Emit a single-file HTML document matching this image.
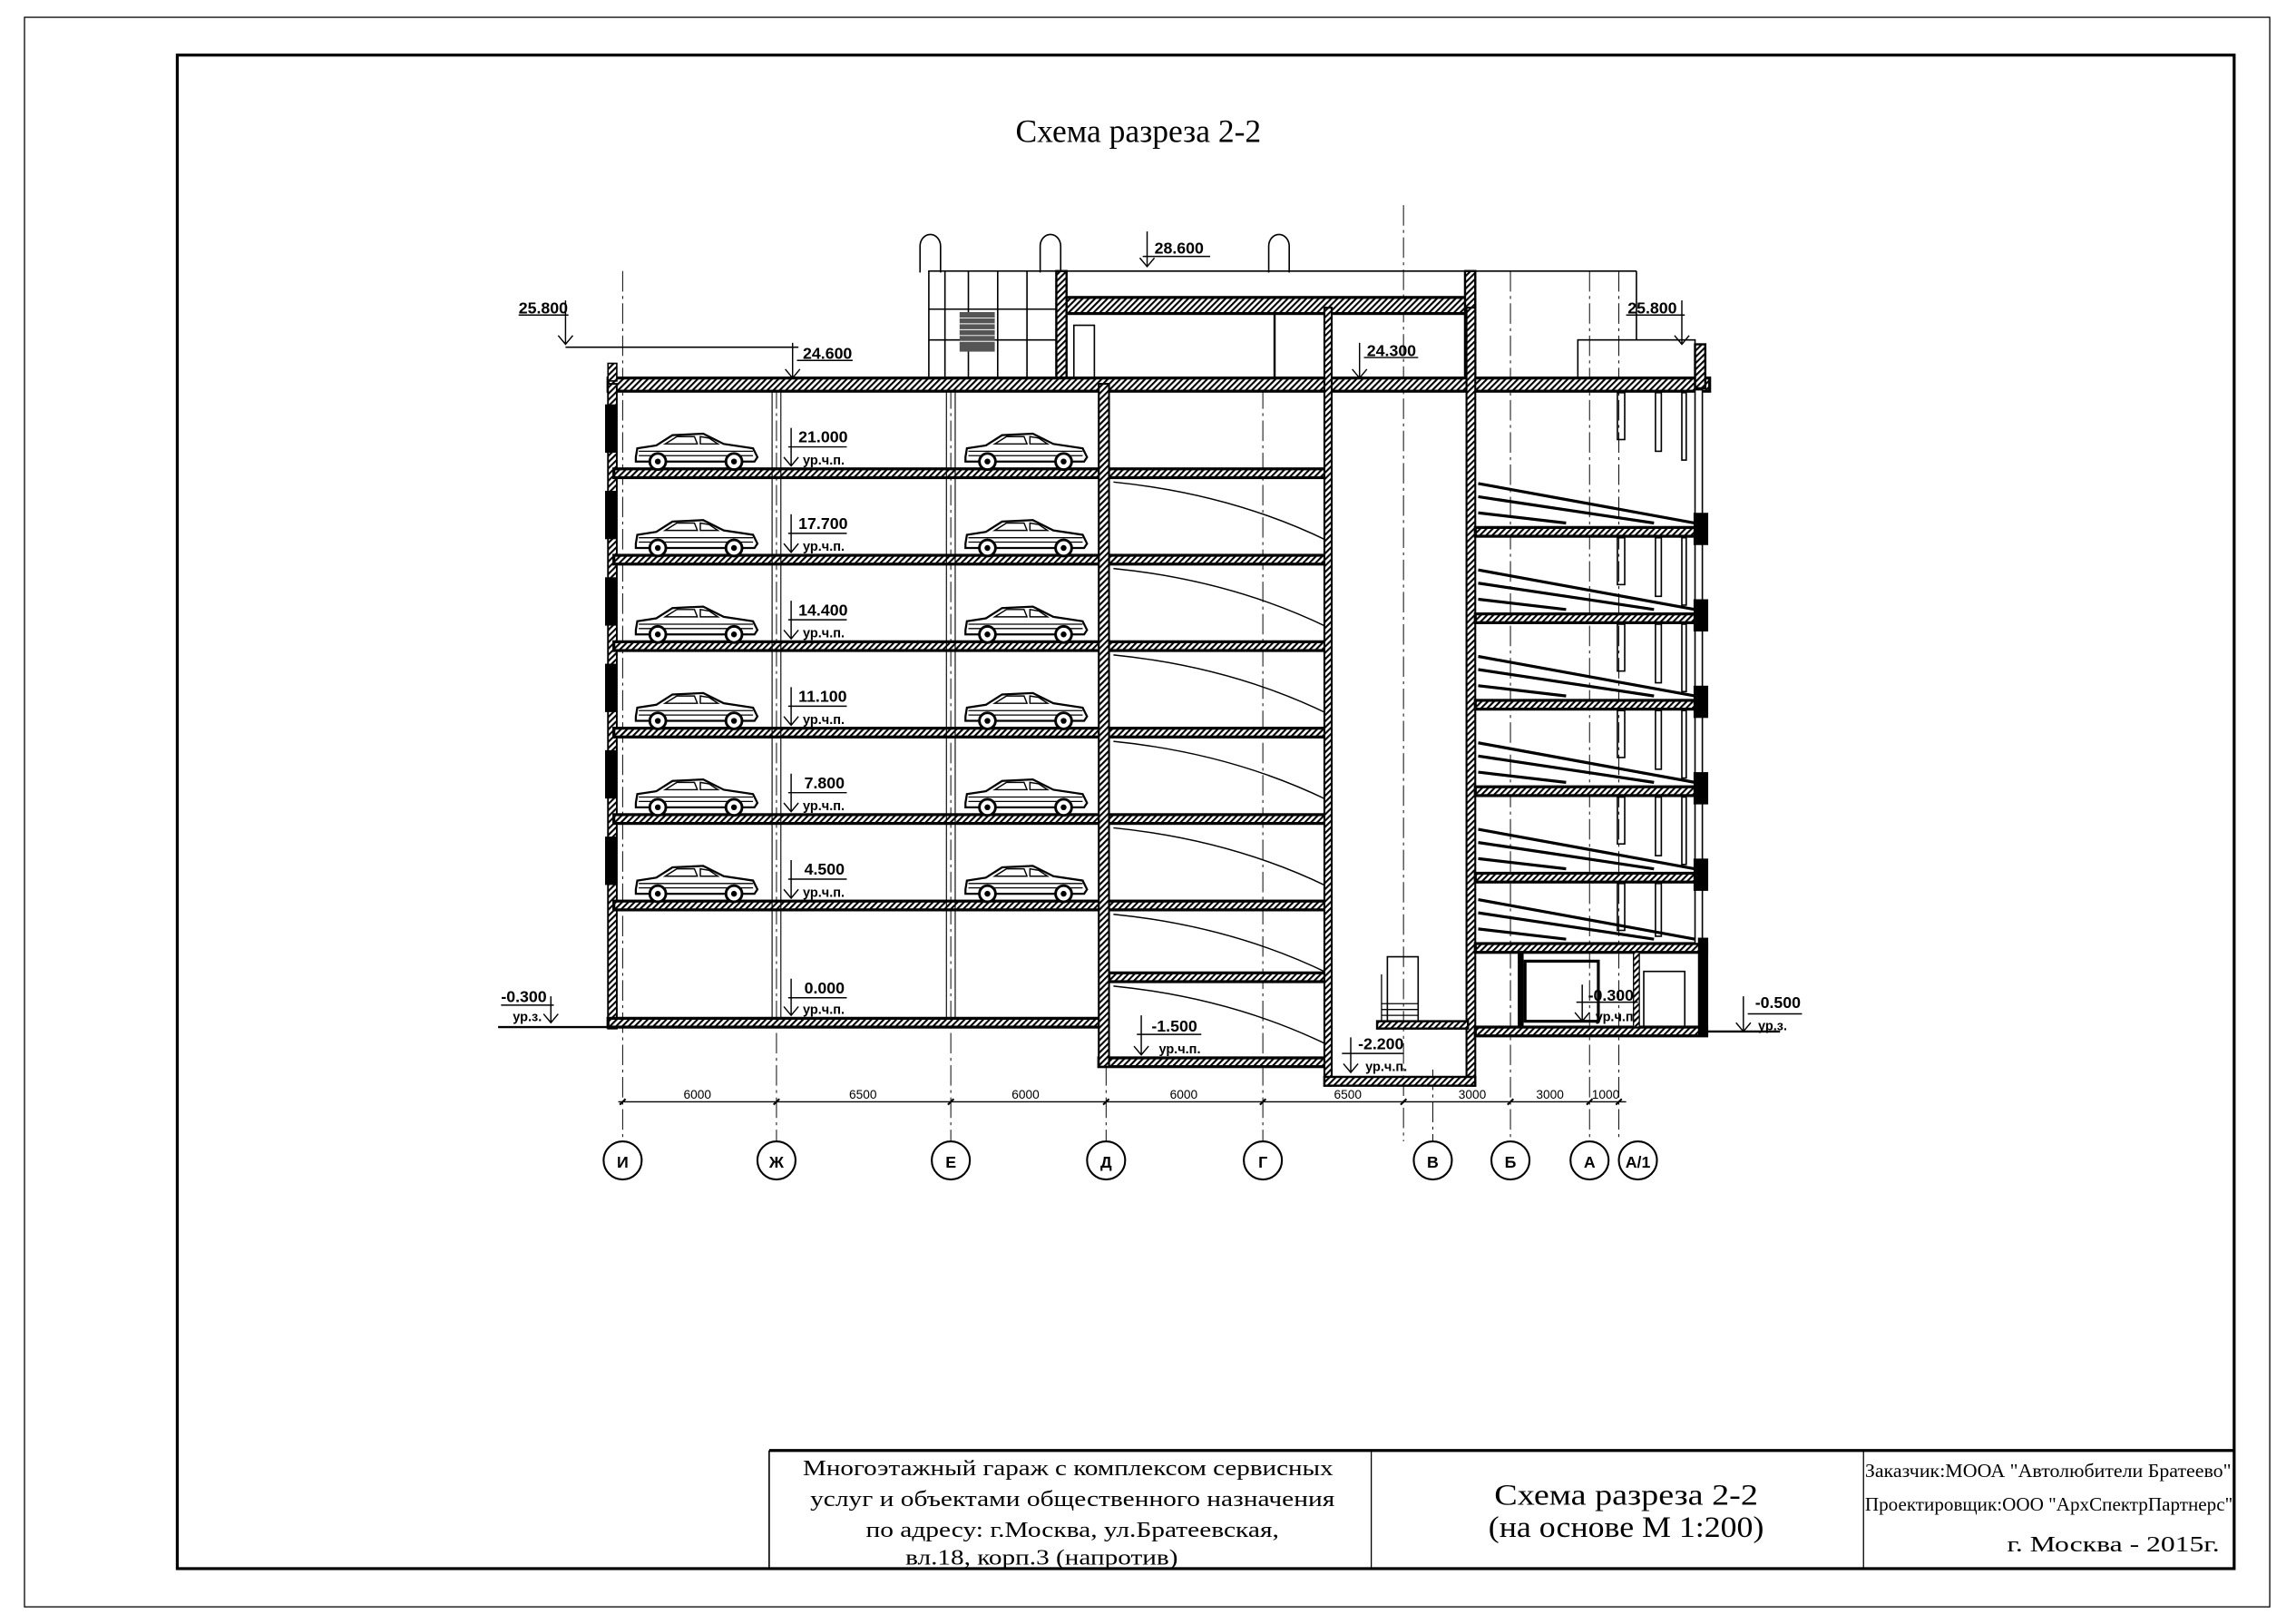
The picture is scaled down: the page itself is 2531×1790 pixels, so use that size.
<!DOCTYPE html>
<html><head><meta charset="utf-8"><style>
html,body{margin:0;padding:0;background:#fff}
svg{display:block}
.n{font-family:"Liberation Sans",sans-serif;font-size:11px;font-weight:bold;}
.d{font-family:"Liberation Sans",sans-serif;font-size:8.5px;}
.s{font-family:"Liberation Serif",serif;}
</style></head><body>
<svg width="2531" height="1790" viewBox="0 0 1567.2 1108.4" xmlns="http://www.w3.org/2000/svg">
<defs>
<pattern id="h" width="3" height="3" patternUnits="userSpaceOnUse" patternTransform="rotate(45)">
<rect width="3" height="3" fill="#fff"/><rect width="1.3" height="3" fill="#000"/></pattern>
<g id="car">
<path d="M2,17 L3,11 L16,9 L27,2 L48,1 L62,8 L82,11 L85,17 L83,20 L2,20 Z" fill="#fff" stroke="#000" stroke-width="1.4"/>
<path d="M22,8 L30,3 L42,3 L44,8 Z M46,8 L46,3 L52,4 L58,8 Z" fill="none" stroke="#000" stroke-width="0.9"/>
<line x1="4" y1="13" x2="82" y2="13" stroke="#000" stroke-width="0.8"/>
<line x1="4" y1="16" x2="82" y2="16" stroke="#000" stroke-width="0.8"/>
<circle cx="17" cy="20" r="5.5" fill="#fff" stroke="#000" stroke-width="1.8"/><circle cx="17" cy="20" r="2" fill="#000"/>
<circle cx="69" cy="20" r="5.5" fill="#fff" stroke="#000" stroke-width="1.8"/><circle cx="69" cy="20" r="2" fill="#000"/>
</g>
<g id="ramp">
<path d="M0,0 Q80,8 146,40" fill="none" stroke="#000" stroke-width="0.9"/>
</g>
<g id="rr">
<line x1="0" y1="-30" x2="148" y2="-3" stroke="#000" stroke-width="2"/>
<line x1="0" y1="-21" x2="120" y2="-3" stroke="#000" stroke-width="2"/>
<line x1="0" y1="-10" x2="60" y2="-3" stroke="#000" stroke-width="2"/>
</g>
</defs>

<!-- frames -->
<rect x="16.7" y="11.8" width="1532.6" height="1084.9" fill="none" stroke="#000" stroke-width="0.8"/>
<rect x="121" y="37.6" width="1404" height="1033" fill="none" stroke="#000" stroke-width="2"/>

<text x="777" y="97" class="s" font-size="22" text-anchor="middle">Схема разреза 2-2</text>

<!-- axis lines -->
<g stroke="#000" stroke-width="0.6" stroke-dasharray="14,3,2,3">
<line x1="425" y1="185" x2="425" y2="779"/>
<line x1="530" y1="265" x2="530" y2="779"/>
<line x1="649" y1="265" x2="649" y2="779"/>
<line x1="755" y1="265" x2="755" y2="779"/>
<line x1="862" y1="265" x2="862" y2="779"/>
<line x1="958" y1="140" x2="958" y2="779"/>
<line x1="978" y1="730" x2="978" y2="779"/>
<line x1="1031" y1="185" x2="1031" y2="779"/>
<line x1="1085" y1="185" x2="1085" y2="779"/>
<line x1="1105" y1="185" x2="1105" y2="779"/>
</g>

<!-- roof top structures -->
<g fill="none" stroke="#000" stroke-width="1">
<path d="M628,186 L628,168 A7,8 0 0 1 642,168 L642,186"/>
<path d="M710,186 L710,168 A7,8 0 0 1 724,168 L724,186"/>
<path d="M866,186 L866,168 A7,8 0 0 1 880,168 L880,186"/>
<rect x="634" y="185" width="90" height="74"/>
<line x1="645" y1="185" x2="645" y2="259"/><line x1="661" y1="185" x2="661" y2="259"/>
<line x1="681" y1="185" x2="681" y2="259"/><line x1="701" y1="185" x2="701" y2="259"/>
<line x1="634" y1="211" x2="724" y2="211"/><line x1="634" y1="232" x2="724" y2="232"/>
<line x1="728" y1="185" x2="1117" y2="185"/>
<line x1="1117" y1="185" x2="1117" y2="232"/>
<rect x="1077" y="232" width="80" height="28"/>
<line x1="386" y1="237" x2="545" y2="237"/>
<rect x="733" y="222" width="14" height="40"/>
</g>
<rect x="655" y="213" width="24" height="27" fill="#555"/>
<g stroke="#fff" stroke-width="0.6"><line x1="655" y1="217" x2="679" y2="217"/><line x1="655" y1="221" x2="679" y2="221"/><line x1="655" y1="225" x2="679" y2="225"/><line x1="655" y1="229" x2="679" y2="229"/><line x1="655" y1="233" x2="679" y2="233"/></g>

<!-- penthouse -->
<rect x="722" y="203" width="284" height="11" fill="url(#h)" stroke="#000" stroke-width="2"/>
<rect x="721" y="185" width="7" height="78" fill="url(#h)" stroke="#000" stroke-width="1.5"/>
<rect x="1000" y="185" width="7" height="78" fill="url(#h)" stroke="#000" stroke-width="1.5"/>
<line x1="870" y1="214" x2="870" y2="262" stroke="#000" stroke-width="1.5"/>

<!-- roof slab main -->
<rect x="415" y="258" width="752" height="9" fill="url(#h)" stroke="#000" stroke-width="2"/>
<rect x="415" y="248" width="6" height="12" fill="url(#h)" stroke="#000" stroke-width="1"/>
<rect x="1157" y="235" width="7" height="30" fill="url(#h)" stroke="#000" stroke-width="1.5"/>

<!-- left outer wall -->
<rect x="415" y="262" width="6" height="440" fill="url(#h)" stroke="#000" stroke-width="1.2"/>
<g fill="#000">
<rect x="413" y="276" width="8" height="33"/><rect x="413" y="335" width="8" height="33"/>
<rect x="413" y="394" width="8" height="33"/><rect x="413" y="453" width="8" height="33"/>
<rect x="413" y="512" width="8" height="33"/><rect x="413" y="571" width="8" height="33"/>
</g>

<!-- left slabs -->
<g fill="url(#h)" stroke="#000" stroke-width="2">
<rect x="419" y="320" width="487" height="6"/>
<rect x="419" y="379" width="487" height="6"/>
<rect x="419" y="438" width="487" height="6"/>
<rect x="419" y="497" width="487" height="6"/>
<rect x="419" y="556" width="487" height="6"/>
<rect x="419" y="615" width="487" height="6"/>
<rect x="415" y="695" width="338" height="6"/>
<rect x="757" y="664" width="149" height="6"/>
<rect x="750" y="722" width="158" height="6"/>
</g>
<g stroke="#000" stroke-width="0.7">
<line x1="527" y1="267" x2="527" y2="695"/><line x1="533" y1="267" x2="533" y2="695"/>
<line x1="646" y1="267" x2="646" y2="695"/><line x1="652" y1="267" x2="652" y2="695"/>
</g>
<rect x="750" y="262" width="7" height="466" fill="url(#h)" stroke="#000" stroke-width="1.3"/>

<!-- cars -->
<g>
<use href="#car" x="432" y="295"/><use href="#car" x="657" y="295"/>
<use href="#car" x="432" y="354"/><use href="#car" x="657" y="354"/>
<use href="#car" x="432" y="413"/><use href="#car" x="657" y="413"/>
<use href="#car" x="432" y="472"/><use href="#car" x="657" y="472"/>
<use href="#car" x="432" y="531"/><use href="#car" x="657" y="531"/>
<use href="#car" x="432" y="590"/><use href="#car" x="657" y="590"/>
</g>

<!-- middle ramps -->
<g>
<use href="#ramp" x="760" y="329"/><use href="#ramp" x="760" y="388"/>
<use href="#ramp" x="760" y="447"/><use href="#ramp" x="760" y="506"/>
<use href="#ramp" x="760" y="565"/><use href="#ramp" x="760" y="624"/>
<use href="#ramp" x="760" y="673"/>
</g>

<!-- shaft -->
<rect x="904" y="210" width="5" height="531" fill="url(#h)" stroke="#000" stroke-width="1.3"/>
<rect x="1001" y="210" width="6" height="531" fill="url(#h)" stroke="#000" stroke-width="1.3"/>
<rect x="904" y="735" width="103" height="6" fill="url(#h)" stroke="#000" stroke-width="1.5"/>
<rect x="940" y="697" width="62" height="5" fill="url(#h)" stroke="#000" stroke-width="1.5"/>
<rect x="947" y="653" width="21" height="44" fill="none" stroke="#000" stroke-width="1"/>
<g stroke="#000" stroke-width="0.8"><line x1="943" y1="665" x2="943" y2="697"/><line x1="968" y1="665" x2="968" y2="697"/>
<line x1="943" y1="685" x2="968" y2="685"/><line x1="943" y1="689" x2="968" y2="689"/><line x1="943" y1="693" x2="968" y2="693"/></g>

<!-- right block -->
<g fill="url(#h)" stroke="#000" stroke-width="2">
<rect x="1007" y="360" width="150" height="6"/>
<rect x="1007" y="419" width="150" height="6"/>
<rect x="1007" y="478" width="150" height="6"/>
<rect x="1007" y="537" width="150" height="6"/>
<rect x="1007" y="596" width="150" height="6"/>
<rect x="1007" y="644" width="158" height="6"/>
<rect x="1007" y="701" width="158" height="6"/>
</g>
<rect x="1157" y="266" width="5" height="378" fill="#fff" stroke="#000" stroke-width="1"/>
<g fill="#000">
<rect x="1156" y="350" width="10" height="22"/><rect x="1156" y="409" width="10" height="22"/>
<rect x="1156" y="468" width="10" height="22"/><rect x="1156" y="527" width="10" height="22"/>
<rect x="1156" y="586" width="10" height="22"/><rect x="1159" y="640" width="7" height="67"/>
</g>
<g>
<use href="#rr" x="1009" y="360"/><use href="#rr" x="1009" y="419"/>
<use href="#rr" x="1009" y="478"/><use href="#rr" x="1009" y="537"/>
<use href="#rr" x="1009" y="596"/><use href="#rr" x="1009" y="644"/>
</g>
<g fill="none" stroke="#000" stroke-width="1">
<rect x="1104" y="268" width="5" height="32"/><rect x="1104" y="367" width="5" height="32"/><rect x="1104" y="426" width="5" height="32"/><rect x="1104" y="485" width="5" height="32"/><rect x="1104" y="544" width="5" height="32"/><rect x="1104" y="603" width="5" height="32"/>
<rect x="1130" y="268" width="4" height="40"/><rect x="1130" y="367" width="4" height="40"/><rect x="1130" y="426" width="4" height="40"/><rect x="1130" y="485" width="4" height="40"/><rect x="1130" y="544" width="4" height="40"/><rect x="1130" y="603" width="4" height="36"/>
<rect x="1148" y="268" width="3" height="46"/><rect x="1148" y="367" width="3" height="46"/><rect x="1148" y="426" width="3" height="46"/><rect x="1148" y="485" width="3" height="46"/><rect x="1148" y="544" width="3" height="46"/>
<rect x="1041" y="656" width="50" height="41" stroke-width="2"/>
<rect x="1122" y="663" width="28" height="38"/>
</g>
<rect x="1036" y="650" width="4" height="51" fill="#000"/>
<rect x="1115" y="650" width="4" height="51" fill="url(#h)" stroke="#000" stroke-width="0.8"/>

<line x1="340" y1="701" x2="415" y2="701" stroke="#000" stroke-width="1.5"/>
<line x1="1165" y1="704" x2="1215" y2="704" stroke="#000" stroke-width="1.5"/>

<!-- level marks -->
<g stroke="#000" stroke-width="0.9" fill="none">
<path d="M540,292 V318 M535,312 L540,318 L545,312 M538,305 H578"/>
<path d="M540,351 V377 M535,371 L540,377 L545,371 M538,364 H578"/>
<path d="M540,410 V436 M535,430 L540,436 L545,430 M538,423 H578"/>
<path d="M540,469 V495 M535,489 L540,495 L545,489 M538,482 H578"/>
<path d="M540,528 V554 M535,548 L540,554 L545,548 M538,541 H578"/>
<path d="M540,587 V613 M535,607 L540,613 L545,607 M538,600 H578"/>
<path d="M540,668 V693 M535,687 L540,693 L545,687 M538,681 H578"/>
<path d="M783,158 V182 M778,176 L783,182 L788,176 M780,175 H826"/>
<path d="M386,205 V235 M381,229 L386,235 L391,229 M354,215 H388"/>
<path d="M1148,205 V235 M1143,229 L1148,235 L1153,229 M1110,215 H1150"/>
<path d="M541,234 V258 M536,252 L541,258 L546,252 M544,246 H582"/>
<path d="M928,234 V258 M923,252 L928,258 L933,252 M931,244 H968"/>
<path d="M376,680 V698 M371,692 L376,698 L381,692 M342,686 H378"/>
<path d="M779,693 V720 M774,714 L779,720 L784,714 M776,706 H820"/>
<path d="M922,708 V732 M917,726 L922,732 L927,726 M916,719 H958"/>
<path d="M1080,672 V697 M1075,691 L1080,697 L1085,691 M1076,684 H1118"/>
<path d="M1190,680 V704 M1185,698 L1190,704 L1195,698 M1193,692 H1230"/>
</g>
<g class="n">
<text x="545" y="302">21.000</text><text x="548" y="317" font-size="9">ур.ч.п.</text>
<text x="545" y="361">17.700</text><text x="548" y="376" font-size="9">ур.ч.п.</text>
<text x="545" y="420">14.400</text><text x="548" y="435" font-size="9">ур.ч.п.</text>
<text x="545" y="479">11.100</text><text x="548" y="494" font-size="9">ур.ч.п.</text>
<text x="549" y="538">7.800</text><text x="548" y="553" font-size="9">ур.ч.п.</text>
<text x="549" y="597">4.500</text><text x="548" y="612" font-size="9">ур.ч.п.</text>
<text x="549" y="678">0.000</text><text x="548" y="692" font-size="9">ур.ч.п.</text>
<text x="788" y="173">28.600</text>
<text x="354" y="214">25.800</text>
<text x="1111" y="214">25.800</text>
<text x="548" y="245">24.600</text>
<text x="933" y="243">24.300</text>
<text x="342" y="684">-0.300</text><text x="350" y="697" font-size="9">ур.з.</text>
<text x="786" y="704">-1.500</text><text x="791" y="719" font-size="9">ур.ч.п.</text>
<text x="927" y="716">-2.200</text><text x="932" y="731" font-size="9">ур.ч.п.</text>
<text x="1084" y="683">-0.300</text><text x="1089" y="697" font-size="9">ур.ч.п.</text>
<text x="1198" y="688">-0.500</text><text x="1200" y="703" font-size="9">ур.з.</text>
</g>

<line x1="422" y1="752" x2="1110" y2="752" stroke="#000" stroke-width="0.8"/>
<g stroke="#000" stroke-width="1.3">
<line x1="423" y1="754" x2="427" y2="750"/><line x1="528" y1="754" x2="532" y2="750"/><line x1="647" y1="754" x2="651" y2="750"/>
<line x1="753" y1="754" x2="757" y2="750"/><line x1="860" y1="754" x2="864" y2="750"/><line x1="956" y1="754" x2="960" y2="750"/>
<line x1="1029" y1="754" x2="1033" y2="750"/><line x1="1083" y1="754" x2="1087" y2="750"/><line x1="1103" y1="754" x2="1107" y2="750"/>
</g>
<g class="d" text-anchor="middle">
<text x="476" y="750">6000</text><text x="589" y="750">6500</text><text x="700" y="750">6000</text>
<text x="808" y="750">6000</text><text x="920" y="750">6500</text><text x="1005" y="750">3000</text>
<text x="1058" y="750">3000</text><text x="1096" y="750">1000</text>
</g>

<g fill="#fff" stroke="#000" stroke-width="1.3">
<circle cx="425" cy="792" r="13"/><circle cx="530" cy="792" r="13"/><circle cx="649" cy="792" r="13"/>
<circle cx="755" cy="792" r="13"/><circle cx="862" cy="792" r="13"/><circle cx="978" cy="792" r="13"/>
<circle cx="1031" cy="792" r="13"/><circle cx="1085" cy="792" r="13"/><circle cx="1118" cy="792" r="13"/>
</g>
<g class="n" font-size="12" text-anchor="middle" font-weight="normal">
<text x="425" y="797">И</text><text x="530" y="797">Ж</text><text x="649" y="797">Е</text>
<text x="755" y="797">Д</text><text x="862" y="797">Г</text><text x="978" y="797">В</text>
<text x="1031" y="797">Б</text><text x="1085" y="797">А</text><text x="1118" y="797">А/1</text>
</g>

<!-- title block -->
<line x1="525" y1="990" x2="1525" y2="990" stroke="#000" stroke-width="2"/>
<line x1="525" y1="990" x2="525" y2="1071" stroke="#000" stroke-width="1"/>
<line x1="936" y1="990" x2="936" y2="1071" stroke="#000" stroke-width="0.8"/>
<line x1="1272" y1="990" x2="1272" y2="1071" stroke="#000" stroke-width="0.8"/>
<g class="s" font-size="15" text-anchor="middle">
<text x="729" y="1007" textLength="362" lengthAdjust="spacingAndGlyphs">Многоэтажный гараж с комплексом сервисных</text>
<text x="732" y="1028" textLength="358" lengthAdjust="spacingAndGlyphs">услуг и объектами общественного назначения</text>
<text x="732" y="1049" textLength="282" lengthAdjust="spacingAndGlyphs">по адресу: г.Москва, ул.Братеевская,</text>
<text x="711" y="1068" textLength="186" lengthAdjust="spacingAndGlyphs">вл.18, корп.3 (напротив)</text>
<text x="1110" y="1027" font-size="20" textLength="180" lengthAdjust="spacingAndGlyphs">Схема разреза 2-2</text>
<text x="1110" y="1049" font-size="20" textLength="188" lengthAdjust="spacingAndGlyphs">(на основе М 1:200)</text>
</g>
<g class="s" font-size="13">
<text x="1273" y="1008" textLength="250" lengthAdjust="spacingAndGlyphs">Заказчик:МООА "Автолюбители Братеево"</text>
<text x="1273" y="1031" textLength="251" lengthAdjust="spacingAndGlyphs">Проектировщик:ООО "АрхСпектрПартнерс"</text>
<text x="1515" y="1059" font-size="15" text-anchor="end" textLength="145" lengthAdjust="spacingAndGlyphs">г. Москва - 2015г.</text>
</g>
</svg>
</body></html>
